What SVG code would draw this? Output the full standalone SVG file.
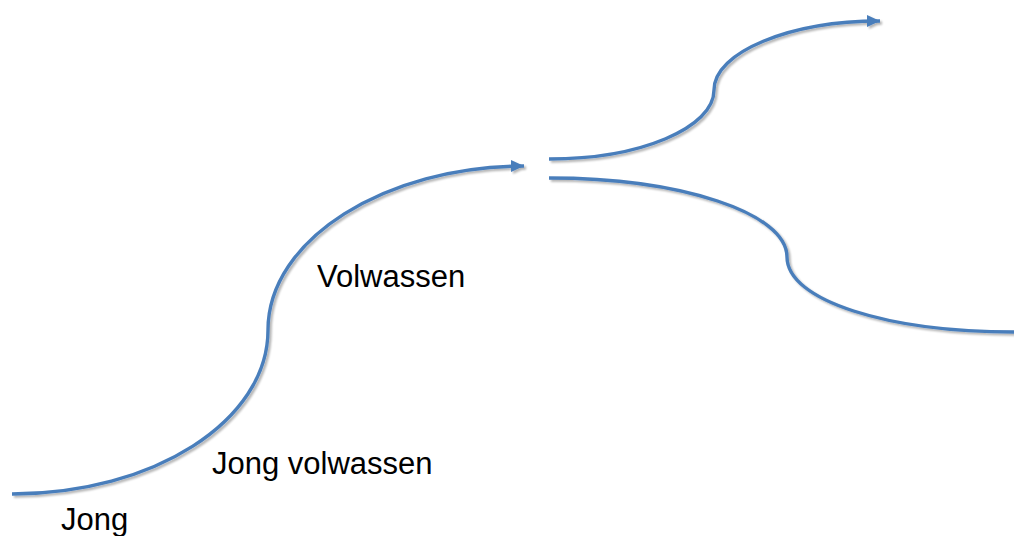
<svg xmlns="http://www.w3.org/2000/svg" width="1014" height="536" viewBox="0 0 1014 536">
<style>
.c{fill:none;stroke:#4a7ebb;stroke-width:3.4;stroke-linecap:butt;filter:url(#sh)}
.t{font-family:"Liberation Sans",Arial,sans-serif;font-size:31px;fill:#000}
</style>
<defs>
<marker id="ah" markerUnits="userSpaceOnUse" markerWidth="14" markerHeight="12" refX="13" refY="6" orient="auto">
<path d="M0,0 L13,6 L0,12 Z" fill="#4a7ebb"/>
</marker>
<filter id="sh" x="-5%" y="-5%" width="110%" height="110%">
<feGaussianBlur in="SourceAlpha" stdDeviation="1"/>
<feOffset dx="1.5" dy="1.5" result="b"/>
<feComponentTransfer><feFuncA type="linear" slope="0.3"/></feComponentTransfer>
<feMerge><feMergeNode/><feMergeNode in="SourceGraphic"/></feMerge>
</filter>
</defs>
<g id="connectors">
<path class="c" marker-end="url(#ah)" d="M12,494 C153,494 268,421 268,330 C268,239 386,166 524,166"/>
<path class="c" marker-end="url(#ah)" d="M549,159 C640,159 714,128 714,90 C714,52 790,21 880,21"/>
<path class="c" d="M549,178 C681,178 787,213 787,257 C787,301 889,332 1014,332"/>
</g>
<g id="jong"><text class="t" x="61" y="530">Jong</text></g>
<g id="jong-volwassen"><text class="t" x="212" y="474">Jong volwassen</text></g>
<g id="volwassen"><text class="t" x="317" y="287">Volwassen</text></g>
</svg>
